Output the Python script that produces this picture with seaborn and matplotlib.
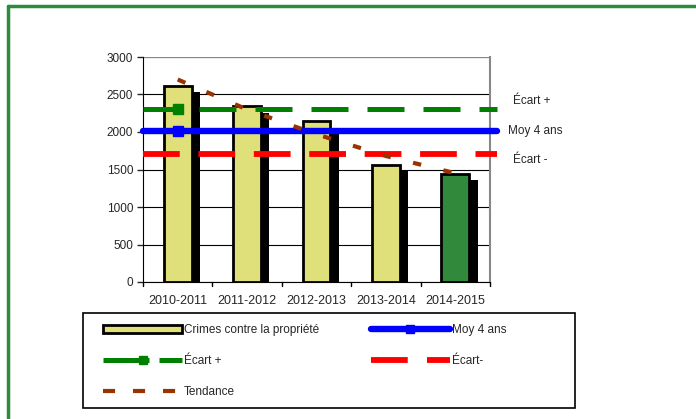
import numpy as np
import pandas as pd
import matplotlib
matplotlib.use("Agg")
import matplotlib.pyplot as plt
import matplotlib.patheffects as pe
from matplotlib.lines import Line2D
import seaborn as sns

# data
years = ["2010-2011", "2011-2012", "2012-2013", "2013-2014", "2014-2015"]
crimes = [2610, 2340, 2140, 1560, 1440]
tendance = [2700, 2300, 1970, 1680, 1450]
moy_4_ans = 2010
ecart_plus = 2310
ecart_moins = 1710
bar_colors = ["#e0e07a", "#e0e07a", "#e0e07a", "#e0e07a", "#318a3c"]

sns.set_style("white")
plt.rcParams["font.family"] = ["Liberation Sans", "DejaVu Sans"]

df = pd.DataFrame({"annee": years, "crimes": crimes})

fig = plt.figure(figsize=(6.96, 4.19), dpi=100)
ax = fig.add_axes([143 / 696, 1 - 282 / 419, 347 / 696, 225 / 419])

sns.barplot(data=df, x="annee", y="crimes", hue="annee", palette=bar_colors,
            legend=False, width=0.4, edgecolor="black", linewidth=2,
            saturation=1, ax=ax, zorder=3)
for p in ax.patches:
    p.set_path_effects([pe.SimplePatchShadow(offset=(6, -4.5),
                                             shadow_rgbFace="black",
                                             alpha=1.0),
                        pe.Normal()])

x = np.arange(len(years))
x_span = [x[0] - 0.5, x[0], x[-1] + 0.6]

ax.plot(x_span, [ecart_plus] * 3, color="#008000", lw=3.6,
        dashes=(7.4, 3.8), marker="s", markersize=7, markevery=[1],
        clip_on=False, zorder=4)
ax.plot(x_span, [moy_4_ans] * 3, color="#0000ff", lw=4.6,
        marker="s", markersize=7, markevery=[1],
        clip_on=False, zorder=4)
ax.plot(x_span, [ecart_moins] * 3, color="#ff0000", lw=4.2,
        dashes=(6.3, 3.2), clip_on=False, zorder=4)
ax.plot(x, tendance, color="#993300", lw=3, dashes=(2, 5.5), zorder=5)

ax.set_xlim(-0.5, len(years) - 0.5)
ax.set_ylim(0, 3000)
ax.set_yticks(range(0, 3001, 500))
ax.set_xticks(x)
ax.set_xticklabels(years, fontsize=9)
ax.tick_params(axis="y", labelsize=8.5, left=True, length=4, width=1,
               pad=3)
ax.tick_params(axis="x", bottom=False, pad=6)
for b in np.arange(-0.5, len(years), 1.0):
    ax.plot([b, b], [0, -55], color="black", lw=1, clip_on=False)
ax.set_xlabel("")
ax.set_ylabel("")
ax.yaxis.grid(True, color="black", lw=0.8, zorder=0)
ax.set_axisbelow(True)
ax.spines["right"].set_color("#888888")
ax.spines["right"].set_linewidth(1.5)
ax.spines["left"].set_color("black")
ax.spines["bottom"].set_color("black")
ax.spines["top"].set_visible(False)
ax.axhline(3000, color="#888888", lw=1.5, zorder=1)

fig.text(513 / 696, 1 - 101 / 419, "Écart +", fontsize=8.5, va="center")
fig.text(508 / 696, 1 - 131 / 419, "Moy 4 ans", fontsize=8.5, va="center")
fig.text(513 / 696, 1 - 160 / 419, "Écart -", fontsize=8.5, va="center")

# legend
h_bar = plt.Rectangle((0, 0), 1, 1, facecolor=bar_colors[0],
                      edgecolor="black", linewidth=2)
h_plus = Line2D([], [], color="#008000", lw=3.6, dashes=(9.2, 2.0),
                marker="s", markersize=6)
h_moy = Line2D([], [], color="#0000ff", lw=4.6, marker="s", markersize=6,
               solid_capstyle="round")
h_moins = Line2D([], [], color="#ff0000", lw=4.2, dashes=(6.3, 3.3))
h_tend = Line2D([], [], color="#993300", lw=3, dashes=(2.9, 4.3))
leg = fig.legend([h_bar, h_plus, h_tend, h_moy, h_moins],
                 ["Crimes contre la propriété", "Écart +", "Tendance",
                  "Moy 4 ans", "Écart-"],
                 loc="upper left", ncol=2, numpoints=1,
                 bbox_to_anchor=(103 / 696, 1 - 324 / 419),
                 fontsize=8.5, frameon=False,
                 handlelength=6.7, handletextpad=0.15, labelspacing=1.6,
                 columnspacing=4.4, borderaxespad=0, borderpad=0)

fig.add_artist(plt.Rectangle((83 / 696, 1 - 408 / 419), 492 / 696,
                             95 / 419, transform=fig.transFigure,
                             fill=False, edgecolor="black", lw=1.2))

# green outer border
fig.add_artist(Line2D([8 / 696, 8 / 696], [0, 1 - 6 / 419],
                      transform=fig.transFigure, color="#2e8b3e", lw=2.5))
fig.add_artist(Line2D([8 / 696, 1], [1 - 6 / 419, 1 - 6 / 419],
                      transform=fig.transFigure, color="#2e8b3e", lw=2.5))

fig.savefig("out.png", dpi=100)
